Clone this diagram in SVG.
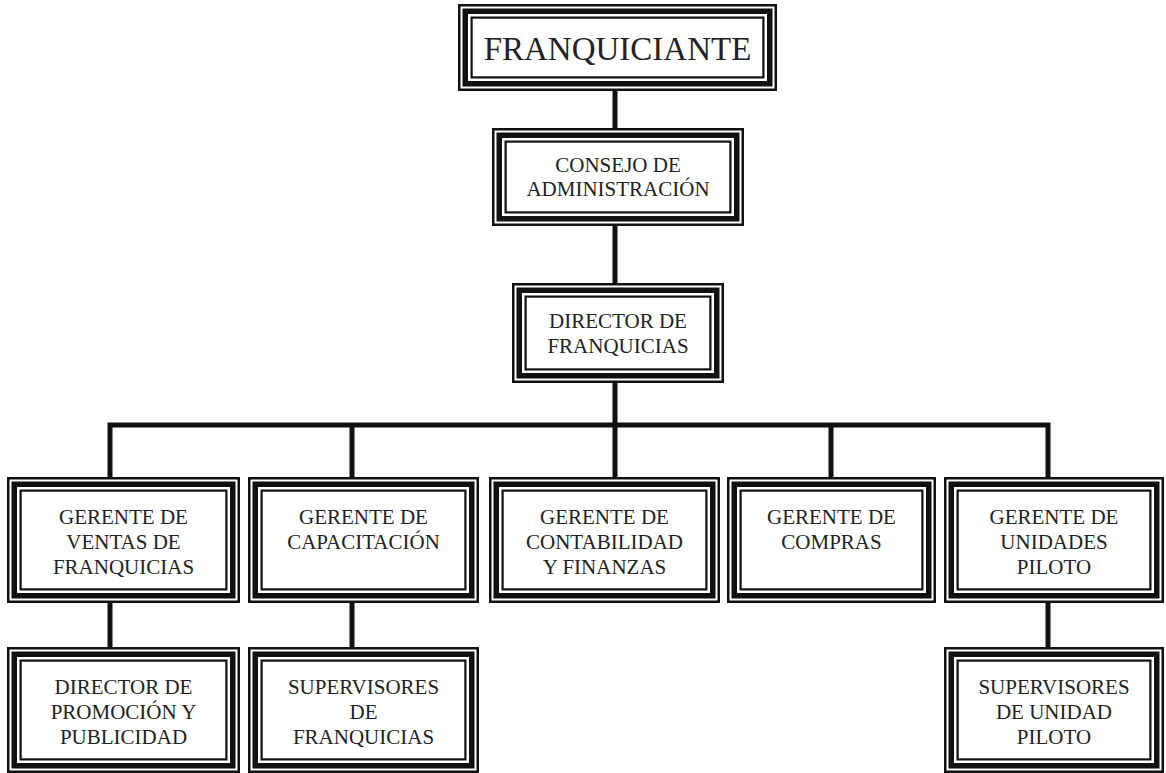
<svg xmlns="http://www.w3.org/2000/svg" width="1166" height="773" viewBox="0 0 1166 773">
<style>
.o{fill:#fff;stroke:#111;stroke-width:2.5}
.k{fill:none;stroke:#111;stroke-width:5.5}
.i{fill:none;stroke:#111;stroke-width:2.2}
.c{fill:none;stroke:#111;stroke-width:5}
text{font-family:"Liberation Serif","Times New Roman",serif;fill:#222;text-anchor:middle;font-size:21px}
.big{font-size:33px}
</style>
<rect width="1166" height="773" fill="#fff"/>
<g id="connectors">
<path class="c" d="M615 91V128M615 225V283M615 383V477M110 477V425H1048V477M352 425V477M831 425V477M110 602V648M352 602V648M1048 602V648"/>
</g>
<g id="n-franquiciante">
<rect class="o" x="459.25" y="5.25" width="316.5" height="84.5"/>
<rect class="k" x="465.25" y="11.25" width="304.5" height="72.5"/>
<rect class="i" x="471.6" y="17.6" width="291.8" height="59.8"/>
<text class="big" x="617.5" y="60">FRANQUICIANTE</text>
</g>
<g id="n-consejo">
<rect class="o" x="493.25" y="129.25" width="249.5" height="95.5"/>
<rect class="k" x="499.25" y="135.25" width="237.5" height="83.5"/>
<rect class="i" x="505.6" y="141.6" width="224.8" height="70.8"/>
<text x="618" y="172">CONSEJO DE</text>
<text x="618" y="196">ADMINISTRACIÓN</text>
</g>
<g id="n-director">
<rect class="o" x="513.25" y="284.25" width="209.5" height="97.5"/>
<rect class="k" x="519.25" y="290.25" width="197.5" height="85.5"/>
<rect class="i" x="525.6" y="296.6" width="184.8" height="72.8"/>
<text x="618" y="328">DIRECTOR DE</text>
<text x="618" y="353">FRANQUICIAS</text>
</g>
<g id="n-ventas">
<rect class="o" x="8.25" y="478.25" width="230.5" height="123.5"/>
<rect class="k" x="14.25" y="484.25" width="218.5" height="111.5"/>
<rect class="i" x="20.6" y="490.6" width="205.8" height="98.8"/>
<text x="123.5" y="524">GERENTE DE</text>
<text x="123.5" y="549">VENTAS DE</text>
<text x="123.5" y="574">FRANQUICIAS</text>
</g>
<g id="n-capacitacion">
<rect class="o" x="249.25" y="478.25" width="228.5" height="123.5"/>
<rect class="k" x="255.25" y="484.25" width="216.5" height="111.5"/>
<rect class="i" x="261.6" y="490.6" width="203.8" height="98.8"/>
<text x="363.5" y="524">GERENTE DE</text>
<text x="363.5" y="549">CAPACITACIÓN</text>
</g>
<g id="n-contabilidad">
<rect class="o" x="490.25" y="478.25" width="228.5" height="123.5"/>
<rect class="k" x="496.25" y="484.25" width="216.5" height="111.5"/>
<rect class="i" x="502.6" y="490.6" width="203.8" height="98.8"/>
<text x="604.5" y="524">GERENTE DE</text>
<text x="604.5" y="549">CONTABILIDAD</text>
<text x="604.5" y="574">Y FINANZAS</text>
</g>
<g id="n-compras">
<rect class="o" x="728.25" y="478.25" width="206.5" height="123.5"/>
<rect class="k" x="734.25" y="484.25" width="194.5" height="111.5"/>
<rect class="i" x="740.6" y="490.6" width="181.8" height="98.8"/>
<text x="831.5" y="524">GERENTE DE</text>
<text x="831.5" y="549">COMPRAS</text>
</g>
<g id="n-unidades">
<rect class="o" x="945.25" y="478.25" width="217.5" height="123.5"/>
<rect class="k" x="951.25" y="484.25" width="205.5" height="111.5"/>
<rect class="i" x="957.6" y="490.6" width="192.8" height="98.8"/>
<text x="1054" y="524">GERENTE DE</text>
<text x="1054" y="549">UNIDADES</text>
<text x="1054" y="574">PILOTO</text>
</g>
<g id="n-promocion">
<rect class="o" x="8.25" y="648.25" width="230.5" height="123.5"/>
<rect class="k" x="14.25" y="654.25" width="218.5" height="111.5"/>
<rect class="i" x="20.6" y="660.6" width="205.8" height="98.8"/>
<text x="123.5" y="694">DIRECTOR DE</text>
<text x="123.5" y="719">PROMOCIÓN Y</text>
<text x="123.5" y="744">PUBLICIDAD</text>
</g>
<g id="n-supervisores">
<rect class="o" x="249.25" y="648.25" width="228.5" height="123.5"/>
<rect class="k" x="255.25" y="654.25" width="216.5" height="111.5"/>
<rect class="i" x="261.6" y="660.6" width="203.8" height="98.8"/>
<text x="363.5" y="694">SUPERVISORES</text>
<text x="363.5" y="719">DE</text>
<text x="363.5" y="744">FRANQUICIAS</text>
</g>
<g id="n-supervisores-piloto">
<rect class="o" x="945.25" y="648.25" width="217.5" height="123.5"/>
<rect class="k" x="951.25" y="654.25" width="205.5" height="111.5"/>
<rect class="i" x="957.6" y="660.6" width="192.8" height="98.8"/>
<text x="1054" y="694">SUPERVISORES</text>
<text x="1054" y="719">DE UNIDAD</text>
<text x="1054" y="744">PILOTO</text>
</g>
</svg>
